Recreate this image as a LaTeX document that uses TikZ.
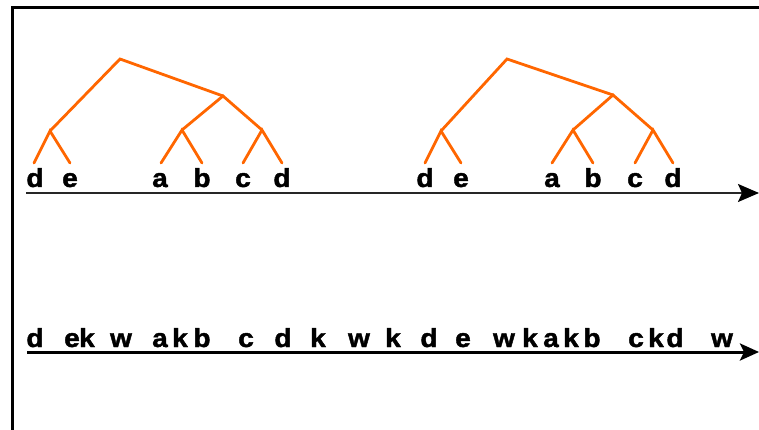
\documentclass[tikz,border=0pt]{standalone}
\usepackage{fontspec}
\setmainfont{Liberation Sans}
\newfontfamily\heavyfont[FakeBold=1.6,FakeStretch=1.08]{Liberation Sans Bold}
\usetikzlibrary{arrows.meta}
\definecolor{treeorange}{HTML}{FF6600}
\tikzset{
  branch/.style={draw=treeorange, line width=2.8pt, line cap=round},
  lbl/.style={anchor=base, inner sep=0pt, font=\fontsize{26}{26}\selectfont\heavyfont},
  axisline/.style={draw=black!85, line width=1.8pt, -{Stealth[length=21pt,width=18pt,inset=4pt,color=black]}},
  axisthick/.style={draw=black, line width=3pt, -{Stealth[length=19pt,width=17pt,inset=4pt]}},
}
\begin{document}
\begin{tikzpicture}[x=1pt,y=-1pt]
\useasboundingbox (0,0) rectangle (759,430);
\clip (0,0) rectangle (759,430);
% frame
\draw[line width=3pt] (12,8) rectangle (800,460);

% tree 1
\coordinate (t1r) at (120,59);
\coordinate (t1L) at (50,131);
\coordinate (t1R) at (223,96);
\coordinate (t1RL) at (182,130);
\coordinate (t1RR) at (262,130);
\coordinate (t1a) at (34,163);
\coordinate (t1b) at (70,163);
\coordinate (t1c) at (161,163);
\coordinate (t1d) at (202,163);
\coordinate (t1e) at (243,163);
\coordinate (t1f) at (282,163);
\draw[branch] (t1a) -- (t1L) -- (t1b);
\draw[branch] (t1L) -- (t1r) -- (t1R);
\draw[branch] (t1RL) -- (t1R) -- (t1RR);
\draw[branch] (t1c) -- (t1RL) -- (t1d);
\draw[branch] (t1e) -- (t1RR) -- (t1f);

% tree 2
\coordinate (t2r) at (507,59);
\coordinate (t2L) at (441,131);
\coordinate (t2R) at (613,95);
\coordinate (t2RL) at (573,130);
\coordinate (t2RR) at (653,130);
\coordinate (t2a) at (425,163);
\coordinate (t2b) at (461,163);
\coordinate (t2c) at (552,163);
\coordinate (t2d) at (593,163);
\coordinate (t2e) at (635,163);
\coordinate (t2f) at (673,163);
\draw[branch] (t2a) -- (t2L) -- (t2b);
\draw[branch] (t2L) -- (t2r) -- (t2R);
\draw[branch] (t2RL) -- (t2R) -- (t2RR);
\draw[branch] (t2c) -- (t2RL) -- (t2d);
\draw[branch] (t2e) -- (t2RR) -- (t2f);

% top labels
\node[lbl] (u1) at (35,187) {d};
\node[lbl] (u2) at (70,187) {e};
\node[lbl] (u3) at (160,187) {a};
\node[lbl] (u4) at (202,187) {b};
\node[lbl] (u5) at (243,187) {c};
\node[lbl] (u6) at (282,187) {d};
\node[lbl] (u7) at (425,187) {d};
\node[lbl] (u8) at (461,187) {e};
\node[lbl] (u9) at (552,187) {a};
\node[lbl] (u10) at (593,187) {b};
\node[lbl] (u11) at (635,187) {c};
\node[lbl] (u12) at (673,187) {d};

% top axis
\coordinate (ax1s) at (26,193);
\coordinate (ax1e) at (759,193);
\draw[axisline] (ax1s) -- (ax1e);

% bottom labels
\node[lbl] (v1) at (35,347) {d};
\node[lbl] (v2) at (72,347) {e};
\node[lbl] (v3) at (87,347) {k};
\node[lbl] (v4) at (121,347) {w};
\node[lbl] (v5) at (160,347) {a};
\node[lbl] (v6) at (180,347) {k};
\node[lbl] (v7) at (202,347) {b};
\node[lbl] (v8) at (246,347) {c};
\node[lbl] (v9) at (283,347) {d};
\node[lbl] (v10) at (318,347) {k};
\node[lbl] (v11) at (359,347) {w};
\node[lbl] (v12) at (393,347) {k};
\node[lbl] (v13) at (429,347) {d};
\node[lbl] (v14) at (463,347) {e};
\node[lbl] (v15) at (504,347) {w};
\node[lbl] (v16) at (530,347) {k};
\node[lbl] (v17) at (551,347) {a};
\node[lbl] (v18) at (571,347) {k};
\node[lbl] (v19) at (592,347) {b};
\node[lbl] (v20) at (636,347) {c};
\node[lbl] (v21) at (656,347) {k};
\node[lbl] (v22) at (675,347) {d};
\node[lbl] (v23) at (722,347) {w};

% bottom axis
\coordinate (ax2s) at (27,352);
\coordinate (ax2e) at (759,352);
\draw[axisthick] (ax2s) -- (ax2e);
\end{tikzpicture}
\end{document}
